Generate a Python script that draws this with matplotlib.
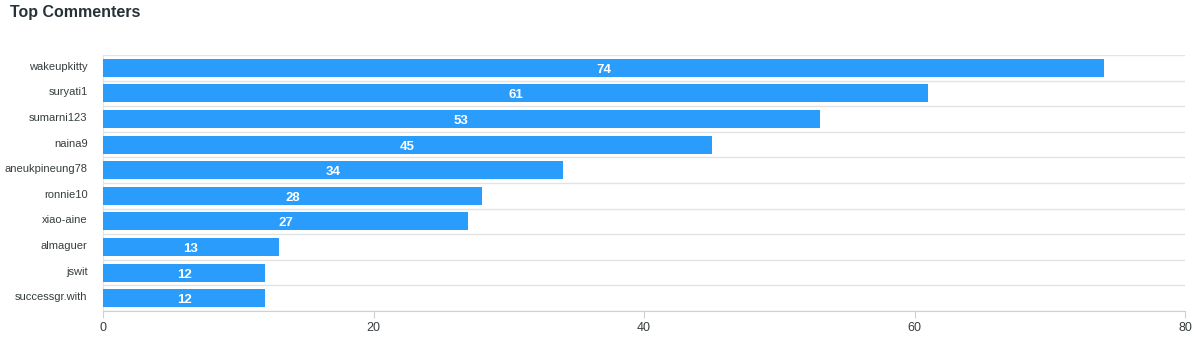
import matplotlib
matplotlib.use("Agg")
import matplotlib.pyplot as plt
import numpy as np

names = ["wakeupkitty", "suryati1", "sumarni123", "naina9", "aneukpineung78",
         "ronnie10", "xiao-aine", "almaguer", "jswit", "successgr.with"]
comments = [74, 61, 53, 45, 34, 28, 27, 13, 12, 12]
xticks = [0, 20, 40, 60, 80]

plt.rcParams['font.family'] = ['Liberation Sans', 'DejaVu Sans']

fig = plt.figure(figsize=(11.95, 3.5), dpi=100)
ax = fig.add_axes([103/1195, 39/350, 1082/1195, 256/350])

n = len(names)
y = np.arange(n)
ax.barh(y, comments, height=0.7, color='#2A9DFC', edgecolor='none', zorder=3)
for yi, v in zip(y, comments):
    ax.text(v / 2, yi + 0.02, str(v), ha='center', va='center_baseline', color='white',
            fontsize=9.5, fontweight='bold', zorder=4)

ax.set_ylim(n - 0.5, -0.5)
ax.set_xlim(0, 80)
ax.set_yticks(y - 0.08)
ax.set_yticklabels(names, fontsize=8, color='#373d3f')
ax.set_xticks(xticks)
ax.set_xticklabels([str(t) for t in xticks], fontsize=9, color='#373d3f')

for b in np.arange(-0.5, n, 1.0):
    ax.axhline(b, color='#e3e3e3', lw=1.0, zorder=1)

for s in ['top', 'right']:
    ax.spines[s].set_visible(False)
ax.spines['left'].set_color('#e3e3e3')
ax.spines['bottom'].set_color('#d0d0d0')
ax.tick_params(axis='y', length=0, pad=11)
ax.tick_params(axis='x', length=5, color='#d0d0d0', pad=3)

fig.text(10/1195, 1 - 12/350, "Top Commenters", fontsize=11.5, fontweight='bold',
         color='#263238', ha='left', va='center')

fig.savefig("out.png", dpi=100)
